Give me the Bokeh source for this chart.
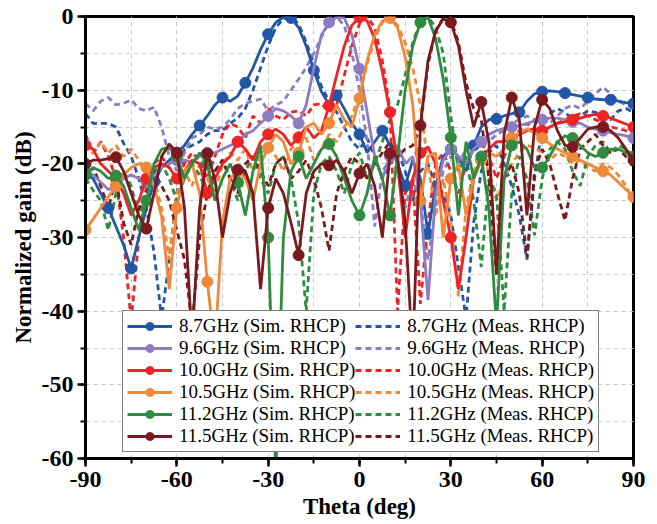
import numpy as np
from bokeh.plotting import figure
from bokeh.models import Range1d, SingleIntervalTicker, Legend, LegendItem, CustomJSTickFormatter
from bokeh.embed import file_html
from bokeh.resources import INLINE

theta = np.arange(-90, 90.01, 2.5)

sim_87 = [-21.5, -22, -24, -26, -28.5, -31, -34.2, -30, -26,
          -22.5, -20.5, -19.5, -18.5, -17.5, -16, -14.8, -13.5,
          -12, -11, -11.5, -10.8, -9, -7, -4.5, -2.4,
          -0.8, -0.1, -0.2, -1.5, -4, -7.3, -10.2, -12,
          -10.7, -12.5, -14.5, -16, -18.5, -17, -15.5, -17.5,
          -20, -23, -19.5, -22, -29.5, -23, -19, -18,
          -19, -21, -17.5, -15, -14, -13.9, -13.5, -13.2,
          -13, -11.5, -10.5, -10.2, -10.1, -10.2, -10.4, -10.6,
          -10.8, -11, -11.2, -11.3, -11.3, -11.5, -11.7, -11.8]
meas_87 = [-13.2, -14.5, -14.5, -14.5, -15, -17.2, -19, -22, -26,
           -32, -41, -33, -24, -18, -17.5, -17, -16,
           -15.5, -15.5, -14.5, -13.8, -12.5, -10, -7, -4,
           -1.5, -0.3, -0.1, -1, -3.5, -6.5, -9.5, -11.5,
           -13, -15, -17, -18, -16.5, -19, -22, -20,
           -18, -21, -25, -21, -20, -23, -24, -27,
           -34, -41, -28, -21, -18.5, -17.5, -20, -23,
           -27, -33, -22, -15, -13.2, -12.5, -13, -14,
           -13.5, -12.8, -13, -13.5, -14, -12.8, -12.5, -13]
sim_96 = [-21, -21.5, -22.5, -23.5, -23, -22, -21.5, -22, -22.5,
          -21.5, -20.5, -20, -19.5, -19.5, -19.8, -19, -18.5,
          -18.5, -18, -17.5, -17, -16, -15.5, -14.5, -13.5,
          -12.5, -12.8, -13.5, -14.5, -12, -7, -2.5, -0.8,
          -0.1, -0.2, -2.5, -7.1, -13, -19, -22, -19,
          -17.5, -20, -19, -25, -38.5, -24, -19.5, -18,
          -19, -20, -18, -17, -16, -15.5, -15.2, -15,
          -14.8, -14.5, -14.2, -14, -13.8, -13.8, -14, -14.3,
          -14.5, -15, -15.3, -15.5, -15.8, -16, -16.2, -16.5]
meas_96 = [-11.8, -12.8, -11.5, -11, -12, -11.8, -11.3, -12.5, -12.8,
           -12.3, -15, -19, -21, -18.5, -16.5, -16, -15,
           -15.3, -15, -14, -12.5, -11.8, -11.5, -11.2, -12.8,
           -12, -11.5, -10, -8.5, -6.9, -5, -2.8, -0.8,
           -0.1, -1.2, -5, -10, -17, -28.5, -21, -19.5,
           -21, -26, -22, -25, -33, -26, -21, -19,
           -20, -18, -17, -16.5, -17, -16, -15.5, -14.5,
           -14, -13.5, -14, -13.8, -14.5, -13.5, -12.5, -12,
           -12.5, -11.5, -10.5, -9.6, -10.5, -11.5, -12, -12.5]
sim_100 = [-17.5, -18, -20, -21, -22, -24, -27, -25, -22,
           -20.5, -20, -20.5, -22, -21, -19.5, -20, -24,
           -22, -20, -19, -17, -18, -19.5, -17, -16,
           -15.3, -16, -17.5, -16.4, -15, -16.5, -15.5, -12.1,
           -8, -4, -1.2, -0.1, -0.6, -3, -7.5, -13,
           -20, -30, -22, -18.5, -17.7, -20, -25, -30,
           -37, -30, -22, -19.5, -18, -17, -17, -16.5,
           -16, -15.5, -15.2, -15.5, -15, -14.5, -14.3, -14,
           -13.8, -13.5, -13.3, -13.5, -13.8, -14.2, -14.6, -15]
meas_100 = [-16, -18.6, -17, -19, -22, -30, -41.5, -30, -23,
            -20, -19, -20.5, -22, -20, -18.5, -19.5, -22,
            -19, -16, -14.5, -15, -16.5, -13.5, -14.5, -12.5,
            -13.5, -14, -13, -12.8, -13.5, -12, -11.8, -13,
            -12, -8, -4, -1, 0, -1.5, -6, -12.5,
            -40, -24, -22, -39, -28, -20, -18.5, -21,
            -24, -20, -18, -17, -19, -22, -19, -17,
            -15.5, -14.5, -15.5, -16, -15, -14.5, -14, -13.5,
            -13.2, -13.5, -14, -14.5, -15, -15.2, -15.5, -16]
sim_105 = [-29, -27.5, -26, -24.5, -23, -21.5, -20.5, -20, -20.5,
           -23, -27.2, -37, -26, -21, -20, -24, -36,
           -45, -28, -22, -21, -22, -25, -20, -17.8,
           -16, -17, -20, -18.5, -15, -14.5, -16, -14.5,
           -12, -14, -15, -11.1, -6, -2.5, -0.6, -0.2,
           -1.5, -5.5, -12, -25, -19, -18.5, -30, -22,
           -20, -27, -22, -19.5, -18.5, -19, -18, -16.5,
           -15.8, -15.3, -15.8, -16.5, -17.3, -18, -18.5, -19,
           -19.5, -20, -20.5, -21, -21.5, -22.5, -23.5, -24.5]
meas_105 = [-17.3, -18.6, -17, -18.5, -17.5, -19, -18, -19.5, -21,
            -22, -26, -33, -24, -21, -23, -20, -22,
            -24, -20, -18.5, -19.5, -18, -21, -19, -17.5,
            -19, -21, -18, -17, -16.5, -19.5, -18, -16,
            -17, -15, -13.5, -10.5, -6.5, -3, -0.8, -0.1,
            -1.2, -3.5, -7, -12, -20, -27, -22, -28,
            -38, -26, -21, -19, -21, -25, -22, -20,
            -18.5, -17.5, -17.8, -18.5, -19.5, -18.5, -19, -20,
            -19.5, -20.5, -21, -20, -20.5, -21.5, -23, -25]
sim_112 = [-21.5, -20.5, -21, -22, -21.6, -23, -26, -29, -25,
           -20, -18, -17.8, -19, -22, -20, -18.5, -20,
           -25, -22, -20, -22.5, -27, -21, -17.5, -30,
           -62, -30, -21, -19, -22, -20, -18, -17.3,
           -19, -22, -25, -27, -24, -19, -22, -27,
           -19, -10, -4, -0.8, -0.1, -3, -8.5, -16.4,
           -27, -17, -22, -19, -26, -42, -22, -17.5,
           -17, -18, -20.5, -20.5, -19, -17, -16.2, -16.5,
           -17.5, -18.5, -19, -18.5, -18, -18, -18.5, -19]
meas_112 = [-22, -23.6, -25, -29, -24, -21, -23, -27, -24,
            -21, -20, -22, -25, -22, -20, -21.5, -24,
            -21, -19.5, -22, -25, -21, -19, -22, -24,
            -20, -19, -22, -28, -40, -24, -20, -19,
            -21, -24, -20, -18.5, -22, -20, -17, -14,
            -12, -8, -3.5, -0.7, 0, -1.5, -5, -13.5,
            -21, -19, -25, -34, -22, -24, -40, -24,
            -19, -22, -29.7, -22, -18, -17, -18, -21,
            -23, -19, -17.5, -17, -18.5, -17.5, -18, -19]
sim_115 = [-20, -19.5, -19.5, -19.3, -19.1, -21, -24, -27, -28.8,
           -24, -19, -17.3, -18.5, -26, -44, -26, -18.6,
           -22, -30, -24, -20.8, -21, -24, -37, -26,
           -22, -24, -28, -32.4, -24, -21, -20, -20.2,
           -19.5, -21, -24, -21.3, -20, -23, -30, -18.6,
           -19, -28, -46, -14.8, -6, -2, -0.3, -0.8,
           -4, -10, -15, -11.6, -17, -35, -16, -11,
           -14, -27, -15, -11.3, -12.5, -15.5, -17.5, -17.7,
           -16.5, -15.3, -15, -15, -15.5, -16.5, -18, -19.5]
meas_115 = [-22, -20.5, -23, -26, -22, -28, -31, -26, -24,
            -21, -23, -25, -29, -33, -42, -30, -24,
            -21, -19.5, -22, -24, -20, -19, -21, -23,
            -20, -19, -22, -21, -19.5, -22, -26, -31.8,
            -24, -21, -19, -20, -22, -20, -18.5, -17,
            -19, -18, -17.5, -15, -6.5, -2, -0.2, -0.5,
            -3.5, -9, -12.5, -14, -22, -35, -22, -20,
            -24, -32.7, -21, -18, -20, -24, -27.7, -22,
            -18, -17, -16, -17.5, -18.5, -18, -19, -20.5]

freqs = ["8.7GHz", "9.6GHz", "10.0GHz", "10.5GHz", "11.2GHz", "11.5GHz"]
colors = ["#2256a6", "#8e7cc3", "#ee2424", "#ef8838", "#2e8b40", "#7a1a1e"]
sims = [sim_87, sim_96, sim_100, sim_105, sim_112, sim_115]
meas = [meas_87, meas_96, meas_100, meas_105, meas_112, meas_115]
marker_step = [3, 4, 4, 4, 4, 4]

FONT = "Liberation Serif"

p = figure(width=657, height=524, x_range=Range1d(-90, 90), y_range=Range1d(-60, 0),
           output_backend="svg", toolbar_location=None,
           min_border_left=85, min_border_right=24, min_border_top=16, min_border_bottom=66)
p.background_fill_color = "white"
p.border_fill_color = "white"
p.outline_line_color = "black"
p.outline_line_width = 3

p.xaxis.ticker = SingleIntervalTicker(interval=30, num_minor_ticks=2)
p.yaxis.ticker = SingleIntervalTicker(interval=10, num_minor_ticks=2)
p.xaxis.formatter = CustomJSTickFormatter(code="return String(Math.round(tick))")
p.yaxis.formatter = CustomJSTickFormatter(code="return String(Math.round(tick))")
for g in (p.xgrid, p.ygrid):
    g.grid_line_color = "#c8c8c8"
    g.grid_line_dash = "4 4"
    g.grid_line_width = 1
    g.minor_grid_line_color = "#c8c8c8"
    g.minor_grid_line_dash = "4 4"
    g.minor_grid_line_width = 1

for ax in (p.xaxis, p.yaxis):
    ax.axis_line_width = 3
    ax.axis_line_color = "black"
    ax.major_tick_line_width = 2.5
    ax.minor_tick_line_width = 2
    ax.major_tick_out = 8
    ax.major_tick_in = 0
    ax.minor_tick_out = 5
    ax.minor_tick_in = 0
    ax.major_label_text_font = FONT
    ax.major_label_text_font_style = "bold"
    ax.major_label_text_font_size = "24px"
    ax.major_label_text_color = "black"
    ax.axis_label_text_font = FONT
    ax.axis_label_text_font_style = "bold"
    ax.axis_label_text_font_size = "23px"
    ax.axis_label_text_color = "black"
p.xaxis.axis_label = "Theta (deg)"
p.yaxis.axis_label = "Normalized gain (dB)"
p.xaxis.major_label_standoff = 5
p.yaxis.major_label_standoff = 4
p.xaxis.axis_label_standoff = 4
p.yaxis.axis_label_standoff = 3

sim_items = []
meas_items = []
for f, c, m in zip(freqs, colors, meas):
    r = p.line(theta, m, line_color=c, line_width=2.8, line_dash="6 4")
    meas_items.append(LegendItem(label=f"{f} (Meas. RHCP)", renderers=[r]))
for f, c, s, k in zip(freqs, colors, sims, marker_step):
    r1 = p.line(theta, s, line_color=c, line_width=2.8)
    r2 = p.scatter(theta[::k], s[::k], size=11, fill_color=c, line_color=c, marker="circle")
    sim_items.append(LegendItem(label=f"{f} (Sim. RHCP)", renderers=[r1, r2]))

legend = Legend(items=sim_items + meas_items, location=(37, 6), ncols=2)
legend.label_text_font = FONT
legend.label_text_font_size = "19px"
legend.label_text_color = "black"
legend.glyph_width = 45
legend.glyph_height = 20
legend.label_height = 20
legend.spacing = 0
legend.padding = 4
legend.margin = 0
legend.label_standoff = 7
legend.border_line_color = "black"
legend.border_line_width = 1.5
legend.background_fill_alpha = 1
p.add_layout(legend)

open("out.html", "w").write(file_html(p, INLINE))
